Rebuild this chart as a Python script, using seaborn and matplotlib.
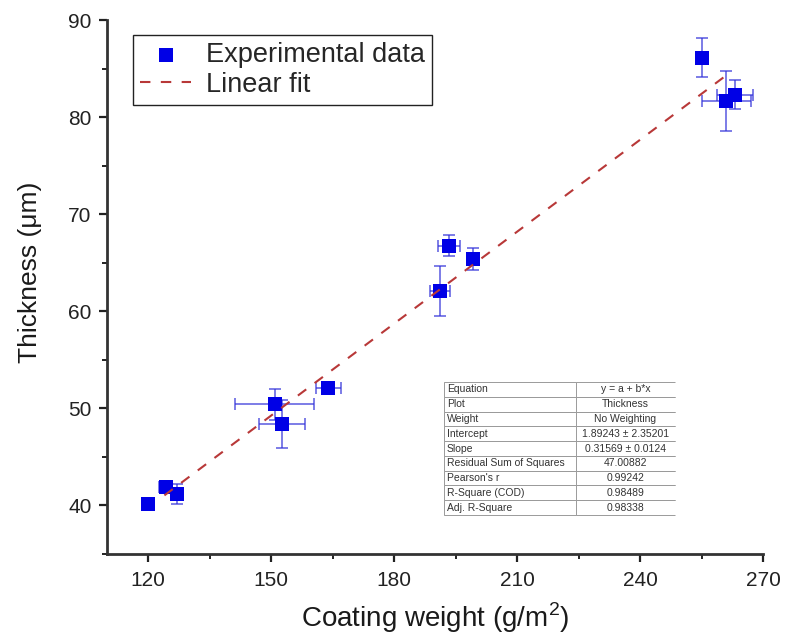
import matplotlib
matplotlib.use("Agg")
import matplotlib.pyplot as plt
from matplotlib.ticker import MultipleLocator
import numpy as np
import pandas as pd
import seaborn as sns

# ---- data ----
coating_weight = [120.0, 124.3, 127.0, 150.9, 152.6, 164.0, 191.2, 193.4, 199.2, 255.2, 261.0, 263.2]
thickness      = [40.1, 41.85, 41.2, 50.4, 48.4, 52.1, 62.1, 66.75, 65.4, 86.1, 81.65, 82.3]
weight_err     = [0.0, 1.5, 0.8, 9.7, 5.6, 3.0, 2.4, 2.7, 0.8, 0.8, 6.0, 4.3]
thickness_err  = [0.0, 0.4, 1.0, 1.6, 2.5, 0.5, 2.6, 1.1, 1.1, 2.0, 3.1, 1.5]

fit_intercept = 1.89243
fit_slope = 0.31569
fit_x_range = [124.0, 262.0]

table_labels = ["Equation", "Plot", "Weight", "Intercept", "Slope",
                "Residual Sum of Squares", "Pearson's r", "R-Square (COD)", "Adj. R-Square"]
table_values = ["y = a + b*x", "Thickness", "No Weighting", "1.89243 \u00b1 2.35201",
                "0.31569 \u00b1 0.0124", "47.00882", "0.99242", "0.98489", "0.98338"]

x_ticks = [120, 150, 180, 210, 240, 270]
y_ticks = [40, 50, 60, 70, 80, 90]

# ---- style ----
sns.set_theme(style="ticks")
plt.rcParams["font.family"] = ["Liberation Sans", "DejaVu Sans"]
plt.rcParams["mathtext.fontset"] = "custom"
plt.rcParams["mathtext.rm"] = "Liberation Sans"

fig = plt.figure(figsize=(7.92, 6.4), dpi=100)
ax = fig.add_axes([107 / 792, 1 - 554 / 640, 656 / 792, 534 / 640])

df = pd.DataFrame({"w": coating_weight, "t": thickness})

ax.errorbar(coating_weight, thickness, xerr=weight_err, yerr=thickness_err,
            fmt="none", ecolor=(0.2, 0.2, 0.85), alpha=0.75, elinewidth=1.2,
            capsize=4.5, capthick=1.2, zorder=2)
sns.scatterplot(data=df, x="w", y="t", marker="s", s=110, color="#0000e6",
                edgecolor="#0000e6", linewidth=0, ax=ax, zorder=3,
                label="Experimental data")

fit_df = pd.DataFrame({"w": fit_x_range,
                       "t": [fit_intercept + fit_slope * v for v in fit_x_range]})
sns.lineplot(data=fit_df, x="w", y="t", ax=ax, color="#b83838", linewidth=1.5,
             dashes=False, linestyle=(0, (5, 5)), zorder=4, label="Linear fit")

ax.set_xlim(110, 270)
ax.set_ylim(35, 90)
ax.set_xticks(x_ticks)
ax.set_yticks(y_ticks)
ax.xaxis.set_minor_locator(MultipleLocator(15))
ax.yaxis.set_minor_locator(MultipleLocator(5))

for side in ["top", "right"]:
    ax.spines[side].set_visible(False)
for side in ["left", "bottom"]:
    ax.spines[side].set_color("#333333")
    ax.spines[side].set_linewidth(2.0)

ax.tick_params(which="major", direction="out", length=6, width=1.6,
               color="#222222", labelsize=15, labelcolor="#222222")
ax.tick_params(axis="x", which="major", pad=6.5)
ax.tick_params(axis="y", which="major", pad=5)
ax.tick_params(which="minor", direction="out", length=3.5, width=1.4, color="#222222")

ax.set_xlabel("Coating weight (g/m$^2$)", fontsize=20, color="#1a1a1a", labelpad=7)
ax.set_ylabel("Thickness (\u03bcm)", fontsize=19, color="#1a1a1a")
ax.yaxis.set_label_coords((42 - 107) / 656, (554 - 272) / 534)

leg = ax.legend(loc="upper left", bbox_to_anchor=(0.04, 0.972), borderaxespad=0,
                fontsize=19.5, frameon=True, fancybox=False, edgecolor="#222222",
                framealpha=1, borderpad=0.25, labelspacing=0.15,
                handlelength=1.9, handletextpad=0.55)
leg.get_frame().set_linewidth(1.0)

# ---- fit results table ----
cell_text = [[a, b] for a, b in zip(table_labels, table_values)]
tbl = ax.table(cellText=cell_text, colWidths=[0.57, 0.43],
               bbox=[(444 - 107) / 656, (554 - 515) / 534, 231 / 656, 133 / 534],
               cellLoc="center", zorder=5)
tbl.auto_set_font_size(False)
for (r, c), cell in tbl.get_celld().items():
    cell.set_fontsize(7.5)
    cell.set_edgecolor("#9a9a9a")
    cell.set_linewidth(0.7)
    cell.get_text().set_color("#333333")
    if c == 0:
        cell.get_text().set_horizontalalignment("left")
        cell.PAD = 0.02
        cell.visible_edges = "TBLR"
    else:
        cell.visible_edges = "TB"

fig.savefig("out.png", dpi=100)
